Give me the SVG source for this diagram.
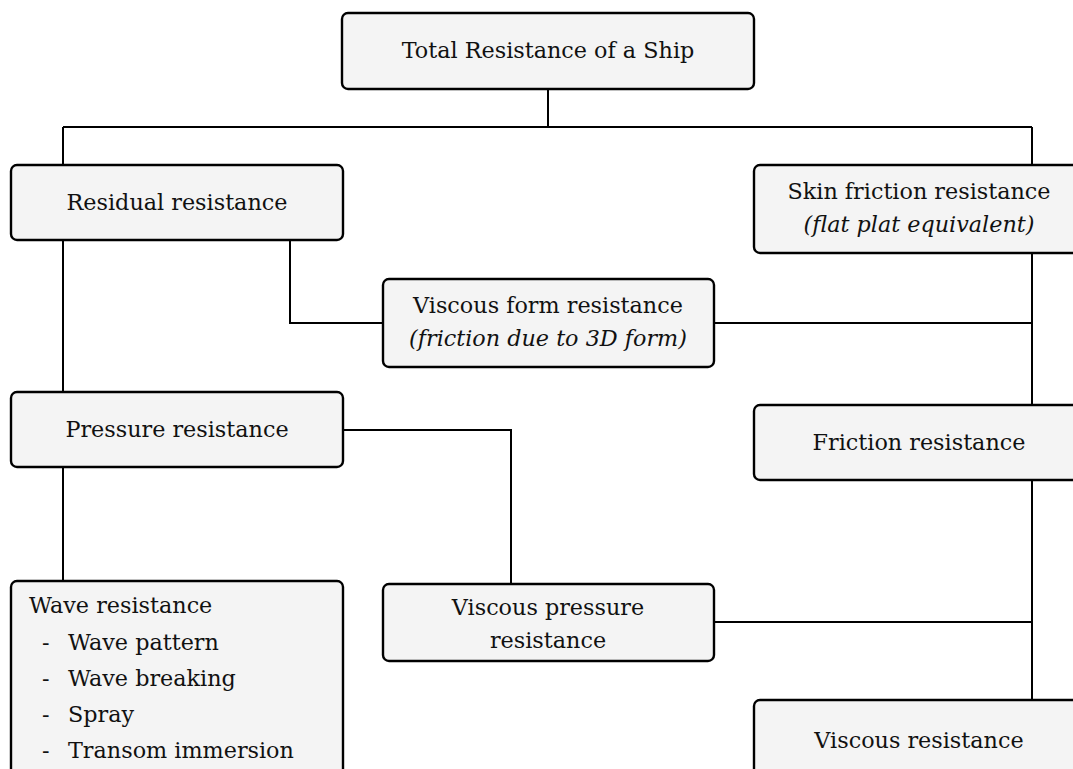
<svg xmlns="http://www.w3.org/2000/svg" width="1073" height="769" viewBox="0 0 1073 769">
<style>
.box{fill:#f4f4f4;stroke:#000;stroke-width:2.4}
.t{font-family:"DejaVu Serif","Liberation Serif",serif;font-size:22.3px;fill:#111}
.c{text-anchor:middle}
.i{font-style:italic}
.ln{fill:none;stroke:#000;stroke-width:2}
</style>
<rect width="1073" height="769" fill="#fff"/>
<g id="connectors">
<path class="ln" d="M548 89V127M63 127H1032M63 127V165M1032 127V165"/>
<path class="ln" d="M63 240V392M63 467V581"/>
<path class="ln" d="M290 240V323H383M714 323H1032"/>
<path class="ln" d="M1032 253V405M1032 480V700"/>
<path class="ln" d="M343 430H511V584M714 622H1032"/>
</g>
<g id="total"><rect class="box" x="342" y="13" width="412" height="76" rx="6"/><text class="t c" x="548" y="58">Total Resistance of a Ship</text></g>
<g id="residual"><rect class="box" x="11" y="165" width="332" height="75" rx="6"/><text class="t c" x="177" y="210">Residual resistance</text></g>
<g id="skin"><rect class="box" x="754" y="165" width="332" height="88" rx="6"/><text class="t c" x="919" y="199">Skin friction resistance</text><text class="t c i" x="919" y="232">(flat plat equivalent)</text></g>
<g id="viscousform"><rect class="box" x="383" y="279" width="331" height="88" rx="6"/><text class="t c" x="548" y="313">Viscous form resistance</text><text class="t c i" x="548" y="346">(friction due to 3D form)</text></g>
<g id="pressure"><rect class="box" x="11" y="392" width="332" height="75" rx="6"/><text class="t c" x="177" y="437">Pressure resistance</text></g>
<g id="friction"><rect class="box" x="754" y="405" width="332" height="75" rx="6"/><text class="t c" x="919" y="450">Friction resistance</text></g>
<g id="wave"><rect class="box" x="11" y="581" width="332" height="220" rx="6"/>
<text class="t" x="29" y="613">Wave resistance</text>
<text class="t" x="42" y="650">-</text><text class="t" x="68" y="650">Wave pattern</text>
<text class="t" x="42" y="686">-</text><text class="t" x="68" y="686">Wave breaking</text>
<text class="t" x="42" y="722">-</text><text class="t" x="68" y="722">Spray</text>
<text class="t" x="42" y="758">-</text><text class="t" x="68" y="758">Transom immersion</text></g>
<g id="viscouspressure"><rect class="box" x="383" y="584" width="331" height="77" rx="6"/><text class="t c" x="548" y="615">Viscous pressure</text><text class="t c" x="548" y="648">resistance</text></g>
<g id="viscous"><rect class="box" x="754" y="700" width="332" height="80" rx="6"/><text class="t c" x="919" y="748">Viscous resistance</text></g>
</svg>
